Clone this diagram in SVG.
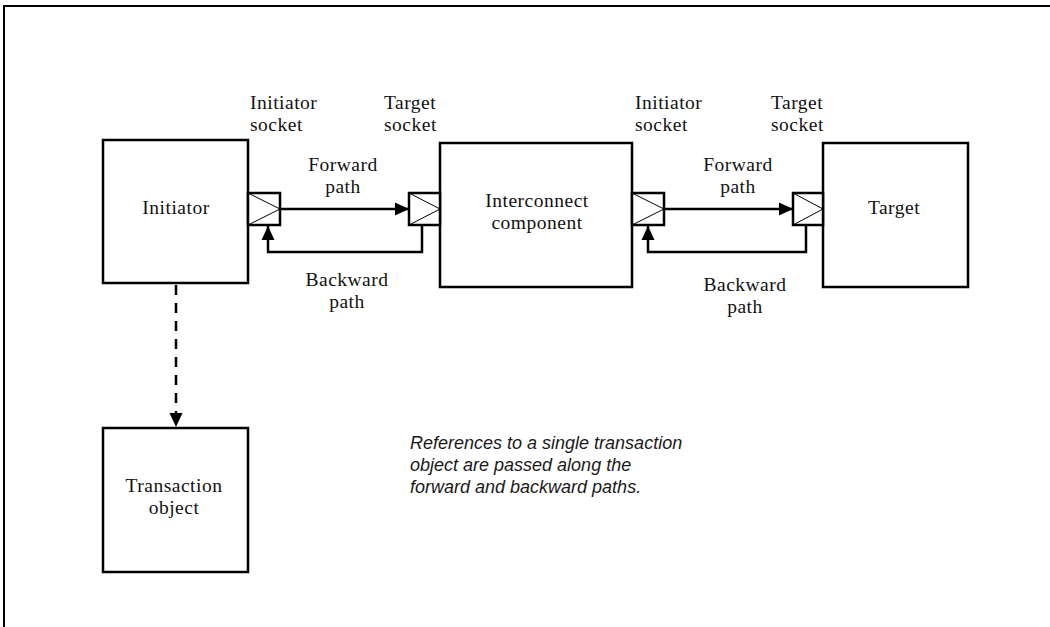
<svg xmlns="http://www.w3.org/2000/svg" width="1050" height="627" viewBox="0 0 1050 627">
<style>
.box{fill:#fff;stroke:#000;stroke-width:2.5}
.sock{fill:#fff;stroke:#000;stroke-width:2.5}
.tri{fill:none;stroke:#000;stroke-width:1}
.ln{fill:none;stroke:#000;stroke-width:2.5}
.dash{fill:none;stroke:#000;stroke-width:2.5;stroke-dasharray:10 8}
.t{font-family:"Liberation Serif","Times New Roman",serif;font-size:19.5px;letter-spacing:0.5px;fill:#111}
.c{text-anchor:middle}
.note{font-family:"Liberation Sans",Arial,sans-serif;font-size:18px;font-style:italic;fill:#1a1a1a}
</style>
<defs>
<marker id="ah" viewBox="0 0 14 14" refX="14" refY="7" markerWidth="14" markerHeight="14" markerUnits="userSpaceOnUse" orient="auto">
<path d="M0,0.5 L14,7 L0,13.5 z" fill="#000"/>
</marker>
</defs>
<path d="M4,627 V6 H1050" fill="none" stroke="#000" stroke-width="2"/>

<g id="initiator">
<rect class="box" x="103" y="140" width="145" height="143"/>
<text class="t c" x="176" y="214">Initiator</text>
</g>
<g id="interconnect">
<rect class="box" x="440" y="143" width="192" height="144"/>
<text class="t c" x="537" y="207">Interconnect</text>
<text class="t c" x="537" y="229">component</text>
</g>
<g id="target">
<rect class="box" x="823" y="143" width="145" height="144"/>
<text class="t c" x="894" y="214">Target</text>
</g>
<g id="transaction">
<rect class="box" x="103" y="428" width="145" height="144"/>
<text class="t c" x="174" y="492">Transaction</text>
<text class="t c" x="174" y="514">object</text>
</g>

<g id="sockets">
<g id="init-socket-1">
<rect class="sock" x="248" y="193" width="32" height="32"/>
<polyline class="tri" points="248,193 280,209 248,225"/>
</g>
<g id="targ-socket-1">
<rect class="sock" x="409" y="193" width="31" height="32"/>
<polyline class="tri" points="409,193 440,209 409,225"/>
</g>
<g id="init-socket-2">
<rect class="sock" x="632" y="193" width="32" height="32"/>
<polyline class="tri" points="632,193 664,209 632,225"/>
</g>
<g id="targ-socket-2">
<rect class="sock" x="793" y="193" width="30" height="32"/>
<polyline class="tri" points="793,193 823,209 793,225"/>
</g>
</g>

<g id="labels">
<text class="t" x="250" y="109">Initiator</text>
<text class="t" x="250" y="131">socket</text>
<text class="t" x="384" y="109">Target</text>
<text class="t" x="384" y="131">socket</text>
<text class="t" x="635" y="109">Initiator</text>
<text class="t" x="635" y="131">socket</text>
<text class="t" x="771" y="109">Target</text>
<text class="t" x="771" y="131">socket</text>
<text class="t c" x="343" y="171">Forward</text>
<text class="t c" x="343" y="193">path</text>
<text class="t c" x="347" y="286">Backward</text>
<text class="t c" x="347" y="308">path</text>
<text class="t c" x="738" y="171">Forward</text>
<text class="t c" x="738" y="193">path</text>
<text class="t c" x="745" y="291">Backward</text>
<text class="t c" x="745" y="313">path</text>
</g>

<g id="connectors">
<line class="ln" x1="281" y1="209" x2="409" y2="209" marker-end="url(#ah)"/>
<polyline class="ln" points="422,226 422,252 268,252 268,226" marker-end="url(#ah)"/>
<line class="ln" x1="665" y1="209" x2="793" y2="209" marker-end="url(#ah)"/>
<polyline class="ln" points="806,226 806,252 648,252 648,226" marker-end="url(#ah)"/>
<line class="dash" x1="176" y1="285" x2="176" y2="427" marker-end="url(#ah)"/>
</g>

<g id="note">
<text class="note" x="410" y="449">References to a single transaction</text>
<text class="note" x="410" y="471">object are passed along the</text>
<text class="note" x="410" y="493">forward and backward paths.</text>
</g>
</svg>
